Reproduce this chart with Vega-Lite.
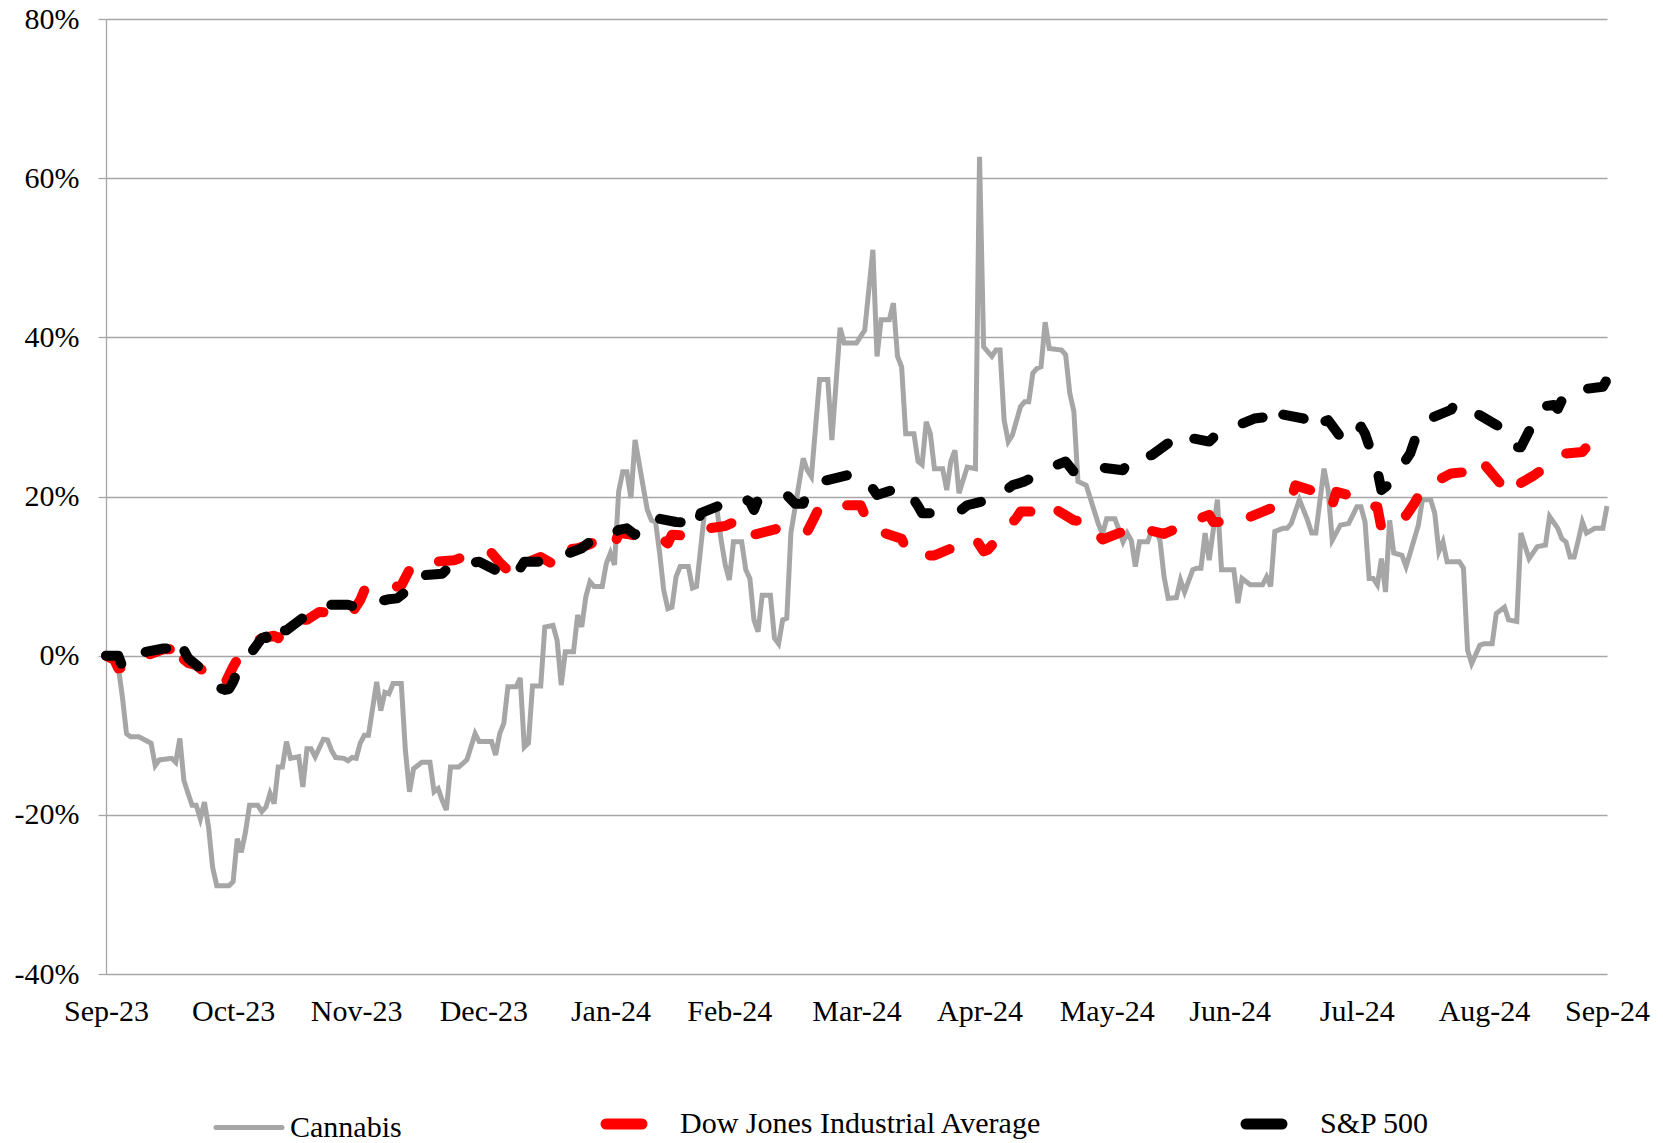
{
"$schema": "https://vega.github.io/schema/vega-lite/v6.json",
"width": 1501, "height": 955,
"autosize": {"type": "none"},
"padding": {"left": 106, "top": 19, "right": 56, "bottom": 169},
"background": "white",
"config": {"view": {"stroke": null}},
"datasets": {
"ticks": [{"d":"2023-10-31"},{"d":"2023-11-30"},{"d":"2023-12-31"},{"d":"2024-01-31"},{"d":"2024-02-29"},{"d":"2024-03-31"},{"d":"2024-04-30"},{"d":"2024-05-31"},{"d":"2024-06-30"},{"d":"2024-07-31"},{"d":"2024-08-31"},{"d":"2024-09-30"}],
"lines": [
{"s":"Cannabis","d":"2023-09-30","v":0},{"s":"Cannabis","d":"2023-10-01","v":0},{"s":"Cannabis","d":"2023-10-03","v":-1.4},{"s":"Cannabis","d":"2023-10-04","v":-5.2},{"s":"Cannabis","d":"2023-10-05","v":-9.8},{"s":"Cannabis","d":"2023-10-06","v":-10.2},{"s":"Cannabis","d":"2023-10-08","v":-10.2},{"s":"Cannabis","d":"2023-10-11","v":-11.0},{"s":"Cannabis","d":"2023-10-12","v":-13.8},{"s":"Cannabis","d":"2023-10-13","v":-13.1},{"s":"Cannabis","d":"2023-10-16","v":-12.9},{"s":"Cannabis","d":"2023-10-17","v":-13.4},{"s":"Cannabis","d":"2023-10-18","v":-10.4},{"s":"Cannabis","d":"2023-10-19","v":-15.7},{"s":"Cannabis","d":"2023-10-20","v":-17.3},{"s":"Cannabis","d":"2023-10-21","v":-18.8},{"s":"Cannabis","d":"2023-10-22","v":-18.8},{"s":"Cannabis","d":"2023-10-23","v":-20.5},{"s":"Cannabis","d":"2023-10-24","v":-18.4},{"s":"Cannabis","d":"2023-10-25","v":-21.5},{"s":"Cannabis","d":"2023-10-26","v":-26.6},{"s":"Cannabis","d":"2023-10-27","v":-28.9},{"s":"Cannabis","d":"2023-10-30","v":-28.9},{"s":"Cannabis","d":"2023-10-31","v":-28.4},{"s":"Cannabis","d":"2023-11-01","v":-23.0},{"s":"Cannabis","d":"2023-11-02","v":-24.7},{"s":"Cannabis","d":"2023-11-03","v":-22.2},{"s":"Cannabis","d":"2023-11-04","v":-18.8},{"s":"Cannabis","d":"2023-11-06","v":-18.8},{"s":"Cannabis","d":"2023-11-07","v":-19.6},{"s":"Cannabis","d":"2023-11-08","v":-19.0},{"s":"Cannabis","d":"2023-11-09","v":-17.3},{"s":"Cannabis","d":"2023-11-10","v":-18.6},{"s":"Cannabis","d":"2023-11-11","v":-14.0},{"s":"Cannabis","d":"2023-11-12","v":-14.0},{"s":"Cannabis","d":"2023-11-13","v":-10.8},{"s":"Cannabis","d":"2023-11-14","v":-12.9},{"s":"Cannabis","d":"2023-11-16","v":-12.7},{"s":"Cannabis","d":"2023-11-17","v":-16.5},{"s":"Cannabis","d":"2023-11-18","v":-11.7},{"s":"Cannabis","d":"2023-11-19","v":-11.7},{"s":"Cannabis","d":"2023-11-20","v":-12.7},{"s":"Cannabis","d":"2023-11-22","v":-10.5},{"s":"Cannabis","d":"2023-11-23","v":-10.6},{"s":"Cannabis","d":"2023-11-24","v":-11.9},{"s":"Cannabis","d":"2023-11-25","v":-12.8},{"s":"Cannabis","d":"2023-11-27","v":-12.9},{"s":"Cannabis","d":"2023-11-28","v":-13.2},{"s":"Cannabis","d":"2023-11-29","v":-12.8},{"s":"Cannabis","d":"2023-11-30","v":-12.9},{"s":"Cannabis","d":"2023-12-01","v":-11.0},{"s":"Cannabis","d":"2023-12-02","v":-10.0},{"s":"Cannabis","d":"2023-12-03","v":-10.0},{"s":"Cannabis","d":"2023-12-05","v":-3.3},{"s":"Cannabis","d":"2023-12-06","v":-6.9},{"s":"Cannabis","d":"2023-12-07","v":-4.6},{"s":"Cannabis","d":"2023-12-08","v":-4.8},{"s":"Cannabis","d":"2023-12-09","v":-3.5},{"s":"Cannabis","d":"2023-12-11","v":-3.5},{"s":"Cannabis","d":"2023-12-12","v":-11.9},{"s":"Cannabis","d":"2023-12-13","v":-17.1},{"s":"Cannabis","d":"2023-12-14","v":-14.2},{"s":"Cannabis","d":"2023-12-16","v":-13.4},{"s":"Cannabis","d":"2023-12-18","v":-13.4},{"s":"Cannabis","d":"2023-12-19","v":-17.1},{"s":"Cannabis","d":"2023-12-20","v":-16.7},{"s":"Cannabis","d":"2023-12-21","v":-18.2},{"s":"Cannabis","d":"2023-12-22","v":-19.4},{"s":"Cannabis","d":"2023-12-23","v":-14.0},{"s":"Cannabis","d":"2023-12-25","v":-14.0},{"s":"Cannabis","d":"2023-12-27","v":-13.1},{"s":"Cannabis","d":"2023-12-29","v":-9.8},{"s":"Cannabis","d":"2023-12-30","v":-10.8},{"s":"Cannabis","d":"2024-01-02","v":-10.8},{"s":"Cannabis","d":"2024-01-03","v":-12.5},{"s":"Cannabis","d":"2024-01-04","v":-9.8},{"s":"Cannabis","d":"2024-01-05","v":-8.5},{"s":"Cannabis","d":"2024-01-06","v":-3.9},{"s":"Cannabis","d":"2024-01-08","v":-3.9},{"s":"Cannabis","d":"2024-01-09","v":-2.8},{"s":"Cannabis","d":"2024-01-10","v":-11.5},{"s":"Cannabis","d":"2024-01-11","v":-11.0},{"s":"Cannabis","d":"2024-01-12","v":-3.8},{"s":"Cannabis","d":"2024-01-14","v":-3.8},{"s":"Cannabis","d":"2024-01-15","v":3.6},{"s":"Cannabis","d":"2024-01-17","v":3.8},{"s":"Cannabis","d":"2024-01-18","v":1.9},{"s":"Cannabis","d":"2024-01-19","v":-3.7},{"s":"Cannabis","d":"2024-01-20","v":0.5},{"s":"Cannabis","d":"2024-01-22","v":0.5},{"s":"Cannabis","d":"2024-01-23","v":5.1},{"s":"Cannabis","d":"2024-01-24","v":3.6},{"s":"Cannabis","d":"2024-01-25","v":7.4},{"s":"Cannabis","d":"2024-01-26","v":9.3},{"s":"Cannabis","d":"2024-01-27","v":8.7},{"s":"Cannabis","d":"2024-01-29","v":8.7},{"s":"Cannabis","d":"2024-01-30","v":11.6},{"s":"Cannabis","d":"2024-01-31","v":12.9},{"s":"Cannabis","d":"2024-02-01","v":11.4},{"s":"Cannabis","d":"2024-02-02","v":20.6},{"s":"Cannabis","d":"2024-02-03","v":23.1},{"s":"Cannabis","d":"2024-02-04","v":23.1},{"s":"Cannabis","d":"2024-02-05","v":19.8},{"s":"Cannabis","d":"2024-02-06","v":27.1},{"s":"Cannabis","d":"2024-02-08","v":21.2},{"s":"Cannabis","d":"2024-02-09","v":18.3},{"s":"Cannabis","d":"2024-02-10","v":17.0},{"s":"Cannabis","d":"2024-02-11","v":16.8},{"s":"Cannabis","d":"2024-02-12","v":12.9},{"s":"Cannabis","d":"2024-02-13","v":8.2},{"s":"Cannabis","d":"2024-02-14","v":5.9},{"s":"Cannabis","d":"2024-02-15","v":6.1},{"s":"Cannabis","d":"2024-02-16","v":9.9},{"s":"Cannabis","d":"2024-02-17","v":11.2},{"s":"Cannabis","d":"2024-02-19","v":11.2},{"s":"Cannabis","d":"2024-02-20","v":8.5},{"s":"Cannabis","d":"2024-02-21","v":8.7},{"s":"Cannabis","d":"2024-02-23","v":18.3},{"s":"Cannabis","d":"2024-02-26","v":18.3},{"s":"Cannabis","d":"2024-02-27","v":14.5},{"s":"Cannabis","d":"2024-02-28","v":11.4},{"s":"Cannabis","d":"2024-02-29","v":9.5},{"s":"Cannabis","d":"2024-03-01","v":14.3},{"s":"Cannabis","d":"2024-03-03","v":14.3},{"s":"Cannabis","d":"2024-03-04","v":10.8},{"s":"Cannabis","d":"2024-03-05","v":9.7},{"s":"Cannabis","d":"2024-03-06","v":4.5},{"s":"Cannabis","d":"2024-03-07","v":3.0},{"s":"Cannabis","d":"2024-03-08","v":7.6},{"s":"Cannabis","d":"2024-03-10","v":7.6},{"s":"Cannabis","d":"2024-03-11","v":2.2},{"s":"Cannabis","d":"2024-03-12","v":1.5},{"s":"Cannabis","d":"2024-03-13","v":4.5},{"s":"Cannabis","d":"2024-03-14","v":4.7},{"s":"Cannabis","d":"2024-03-15","v":15.4},{"s":"Cannabis","d":"2024-03-18","v":24.8},{"s":"Cannabis","d":"2024-03-19","v":23.3},{"s":"Cannabis","d":"2024-03-20","v":22.5},{"s":"Cannabis","d":"2024-03-22","v":34.7},{"s":"Cannabis","d":"2024-03-24","v":34.7},{"s":"Cannabis","d":"2024-03-25","v":27.1},{"s":"Cannabis","d":"2024-03-27","v":41.2},{"s":"Cannabis","d":"2024-03-28","v":39.3},{"s":"Cannabis","d":"2024-03-31","v":39.3},{"s":"Cannabis","d":"2024-04-02","v":40.9},{"s":"Cannabis","d":"2024-04-04","v":51.0},{"s":"Cannabis","d":"2024-04-05","v":37.6},{"s":"Cannabis","d":"2024-04-06","v":42.2},{"s":"Cannabis","d":"2024-04-08","v":42.2},{"s":"Cannabis","d":"2024-04-09","v":44.3},{"s":"Cannabis","d":"2024-04-10","v":37.6},{"s":"Cannabis","d":"2024-04-11","v":36.3},{"s":"Cannabis","d":"2024-04-12","v":27.9},{"s":"Cannabis","d":"2024-04-14","v":27.9},{"s":"Cannabis","d":"2024-04-15","v":24.4},{"s":"Cannabis","d":"2024-04-16","v":24.0},{"s":"Cannabis","d":"2024-04-17","v":29.4},{"s":"Cannabis","d":"2024-04-18","v":27.9},{"s":"Cannabis","d":"2024-04-19","v":23.5},{"s":"Cannabis","d":"2024-04-21","v":23.5},{"s":"Cannabis","d":"2024-04-22","v":20.8},{"s":"Cannabis","d":"2024-04-23","v":24.4},{"s":"Cannabis","d":"2024-04-24","v":25.8},{"s":"Cannabis","d":"2024-04-25","v":20.4},{"s":"Cannabis","d":"2024-04-27","v":23.7},{"s":"Cannabis","d":"2024-04-29","v":23.5},{"s":"Cannabis","d":"2024-04-30","v":62.7},{"s":"Cannabis","d":"2024-05-01","v":38.8},{"s":"Cannabis","d":"2024-05-03","v":37.6},{"s":"Cannabis","d":"2024-05-04","v":38.4},{"s":"Cannabis","d":"2024-05-05","v":38.4},{"s":"Cannabis","d":"2024-05-06","v":29.6},{"s":"Cannabis","d":"2024-05-07","v":26.9},{"s":"Cannabis","d":"2024-05-08","v":27.7},{"s":"Cannabis","d":"2024-05-10","v":31.3},{"s":"Cannabis","d":"2024-05-11","v":31.9},{"s":"Cannabis","d":"2024-05-12","v":31.9},{"s":"Cannabis","d":"2024-05-13","v":35.5},{"s":"Cannabis","d":"2024-05-14","v":36.1},{"s":"Cannabis","d":"2024-05-15","v":36.3},{"s":"Cannabis","d":"2024-05-16","v":41.9},{"s":"Cannabis","d":"2024-05-17","v":38.6},{"s":"Cannabis","d":"2024-05-20","v":38.4},{"s":"Cannabis","d":"2024-05-21","v":37.8},{"s":"Cannabis","d":"2024-05-22","v":33.0},{"s":"Cannabis","d":"2024-05-23","v":30.7},{"s":"Cannabis","d":"2024-05-24","v":21.9},{"s":"Cannabis","d":"2024-05-26","v":21.4},{"s":"Cannabis","d":"2024-05-27","v":19.8},{"s":"Cannabis","d":"2024-05-29","v":16.5},{"s":"Cannabis","d":"2024-05-30","v":15.3},{"s":"Cannabis","d":"2024-05-31","v":17.2},{"s":"Cannabis","d":"2024-06-02","v":17.2},{"s":"Cannabis","d":"2024-06-03","v":15.8},{"s":"Cannabis","d":"2024-06-04","v":14.3},{"s":"Cannabis","d":"2024-06-05","v":15.4},{"s":"Cannabis","d":"2024-06-06","v":14.5},{"s":"Cannabis","d":"2024-06-07","v":11.2},{"s":"Cannabis","d":"2024-06-08","v":14.3},{"s":"Cannabis","d":"2024-06-10","v":14.3},{"s":"Cannabis","d":"2024-06-11","v":15.8},{"s":"Cannabis","d":"2024-06-12","v":15.6},{"s":"Cannabis","d":"2024-06-13","v":14.5},{"s":"Cannabis","d":"2024-06-14","v":9.9},{"s":"Cannabis","d":"2024-06-15","v":7.2},{"s":"Cannabis","d":"2024-06-17","v":7.3},{"s":"Cannabis","d":"2024-06-18","v":9.5},{"s":"Cannabis","d":"2024-06-19","v":8.0},{"s":"Cannabis","d":"2024-06-21","v":10.8},{"s":"Cannabis","d":"2024-06-22","v":11.0},{"s":"Cannabis","d":"2024-06-23","v":11.0},{"s":"Cannabis","d":"2024-06-24","v":15.4},{"s":"Cannabis","d":"2024-06-25","v":12.0},{"s":"Cannabis","d":"2024-06-27","v":19.6},{"s":"Cannabis","d":"2024-06-28","v":10.8},{"s":"Cannabis","d":"2024-07-01","v":10.8},{"s":"Cannabis","d":"2024-07-02","v":6.6},{"s":"Cannabis","d":"2024-07-03","v":9.7},{"s":"Cannabis","d":"2024-07-05","v":8.9},{"s":"Cannabis","d":"2024-07-08","v":8.9},{"s":"Cannabis","d":"2024-07-09","v":9.9},{"s":"Cannabis","d":"2024-07-10","v":8.7},{"s":"Cannabis","d":"2024-07-11","v":15.6},{"s":"Cannabis","d":"2024-07-13","v":16.0},{"s":"Cannabis","d":"2024-07-14","v":16.0},{"s":"Cannabis","d":"2024-07-15","v":16.6},{"s":"Cannabis","d":"2024-07-17","v":19.6},{"s":"Cannabis","d":"2024-07-19","v":17.0},{"s":"Cannabis","d":"2024-07-20","v":15.4},{"s":"Cannabis","d":"2024-07-21","v":15.4},{"s":"Cannabis","d":"2024-07-23","v":23.5},{"s":"Cannabis","d":"2024-07-24","v":20.8},{"s":"Cannabis","d":"2024-07-25","v":14.5},{"s":"Cannabis","d":"2024-07-27","v":16.4},{"s":"Cannabis","d":"2024-07-29","v":16.6},{"s":"Cannabis","d":"2024-07-31","v":18.7},{"s":"Cannabis","d":"2024-08-01","v":18.7},{"s":"Cannabis","d":"2024-08-02","v":16.8},{"s":"Cannabis","d":"2024-08-03","v":9.7},{"s":"Cannabis","d":"2024-08-04","v":9.7},{"s":"Cannabis","d":"2024-08-05","v":8.9},{"s":"Cannabis","d":"2024-08-06","v":12.2},{"s":"Cannabis","d":"2024-08-07","v":8.0},{"s":"Cannabis","d":"2024-08-08","v":17.0},{"s":"Cannabis","d":"2024-08-09","v":12.9},{"s":"Cannabis","d":"2024-08-11","v":12.6},{"s":"Cannabis","d":"2024-08-12","v":11.2},{"s":"Cannabis","d":"2024-08-13","v":12.9},{"s":"Cannabis","d":"2024-08-15","v":16.4},{"s":"Cannabis","d":"2024-08-16","v":19.6},{"s":"Cannabis","d":"2024-08-18","v":19.6},{"s":"Cannabis","d":"2024-08-19","v":17.9},{"s":"Cannabis","d":"2024-08-20","v":13.1},{"s":"Cannabis","d":"2024-08-21","v":14.3},{"s":"Cannabis","d":"2024-08-22","v":11.8},{"s":"Cannabis","d":"2024-08-25","v":11.8},{"s":"Cannabis","d":"2024-08-26","v":11.0},{"s":"Cannabis","d":"2024-08-27","v":0.7},{"s":"Cannabis","d":"2024-08-28","v":-1.0},{"s":"Cannabis","d":"2024-08-30","v":1.3},{"s":"Cannabis","d":"2024-08-31","v":1.5},{"s":"Cannabis","d":"2024-09-02","v":1.5},{"s":"Cannabis","d":"2024-09-03","v":5.3},{"s":"Cannabis","d":"2024-09-05","v":6.1},{"s":"Cannabis","d":"2024-09-06","v":4.5},{"s":"Cannabis","d":"2024-09-08","v":4.3},{"s":"Cannabis","d":"2024-09-09","v":15.4},{"s":"Cannabis","d":"2024-09-11","v":12.2},{"s":"Cannabis","d":"2024-09-13","v":13.7},{"s":"Cannabis","d":"2024-09-15","v":13.9},{"s":"Cannabis","d":"2024-09-16","v":17.5},{"s":"Cannabis","d":"2024-09-18","v":16.0},{"s":"Cannabis","d":"2024-09-19","v":14.7},{"s":"Cannabis","d":"2024-09-20","v":14.3},{"s":"Cannabis","d":"2024-09-21","v":12.4},{"s":"Cannabis","d":"2024-09-22","v":12.4},{"s":"Cannabis","d":"2024-09-23","v":14.5},{"s":"Cannabis","d":"2024-09-24","v":16.8},{"s":"Cannabis","d":"2024-09-25","v":15.4},{"s":"Cannabis","d":"2024-09-27","v":16.0},{"s":"Cannabis","d":"2024-09-29","v":16.0},{"s":"Cannabis","d":"2024-09-30","v":18.8},
{"s":"Dow Jones Industrial Average","d":"2023-09-30","v":0},{"s":"Dow Jones Industrial Average","d":"2023-10-02","v":-0.5},{"s":"Dow Jones Industrial Average","d":"2023-10-03","v":-1.6},{"s":"Dow Jones Industrial Average","d":"2023-10-05","v":-1.4},{"s":"Dow Jones Industrial Average","d":"2023-10-07","v":-0.5},{"s":"Dow Jones Industrial Average","d":"2023-10-14","v":0.8},{"s":"Dow Jones Industrial Average","d":"2023-10-16","v":0.8},{"s":"Dow Jones Industrial Average","d":"2023-10-17","v":1.9},{"s":"Dow Jones Industrial Average","d":"2023-10-18","v":1.6},{"s":"Dow Jones Industrial Average","d":"2023-10-19","v":-0.5},{"s":"Dow Jones Industrial Average","d":"2023-10-20","v":-0.9},{"s":"Dow Jones Industrial Average","d":"2023-10-22","v":-1.2},{"s":"Dow Jones Industrial Average","d":"2023-10-26","v":-2.9},{"s":"Dow Jones Industrial Average","d":"2023-10-27","v":-3.6},{"s":"Dow Jones Industrial Average","d":"2023-10-29","v":-3.5},{"s":"Dow Jones Industrial Average","d":"2023-10-31","v":-1.4},{"s":"Dow Jones Industrial Average","d":"2023-11-01","v":-0.5},{"s":"Dow Jones Industrial Average","d":"2023-11-03","v":0.9},{"s":"Dow Jones Industrial Average","d":"2023-11-07","v":2.2},{"s":"Dow Jones Industrial Average","d":"2023-11-10","v":2.5},{"s":"Dow Jones Industrial Average","d":"2023-11-11","v":2.2},{"s":"Dow Jones Industrial Average","d":"2023-11-14","v":4.0},{"s":"Dow Jones Industrial Average","d":"2023-11-16","v":4.5},{"s":"Dow Jones Industrial Average","d":"2023-11-18","v":4.5},{"s":"Dow Jones Industrial Average","d":"2023-11-21","v":5.5},{"s":"Dow Jones Industrial Average","d":"2023-11-27","v":5.3},{"s":"Dow Jones Industrial Average","d":"2023-11-29","v":5.4},{"s":"Dow Jones Industrial Average","d":"2023-12-01","v":7.0},{"s":"Dow Jones Industrial Average","d":"2023-12-02","v":8.2},{"s":"Dow Jones Industrial Average","d":"2023-12-03","v":8.2},{"s":"Dow Jones Industrial Average","d":"2023-12-08","v":8.5},{"s":"Dow Jones Industrial Average","d":"2023-12-11","v":8.8},{"s":"Dow Jones Industrial Average","d":"2023-12-13","v":10.8},{"s":"Dow Jones Industrial Average","d":"2023-12-15","v":11.6},{"s":"Dow Jones Industrial Average","d":"2023-12-19","v":11.8},{"s":"Dow Jones Industrial Average","d":"2023-12-24","v":12.0},{"s":"Dow Jones Industrial Average","d":"2023-12-28","v":12.8},{"s":"Dow Jones Industrial Average","d":"2024-01-02","v":12.9},{"s":"Dow Jones Industrial Average","d":"2024-01-04","v":11.7},{"s":"Dow Jones Industrial Average","d":"2024-01-07","v":10.2},{"s":"Dow Jones Industrial Average","d":"2024-01-10","v":11.6},{"s":"Dow Jones Industrial Average","d":"2024-01-14","v":12.4},{"s":"Dow Jones Industrial Average","d":"2024-01-18","v":11.2},{"s":"Dow Jones Industrial Average","d":"2024-01-20","v":13.3},{"s":"Dow Jones Industrial Average","d":"2024-01-23","v":13.5},{"s":"Dow Jones Industrial Average","d":"2024-01-26","v":14.0},{"s":"Dow Jones Industrial Average","d":"2024-01-29","v":14.9},{"s":"Dow Jones Industrial Average","d":"2024-02-01","v":13.9},{"s":"Dow Jones Industrial Average","d":"2024-02-02","v":15.4},{"s":"Dow Jones Industrial Average","d":"2024-02-04","v":15.3},{"s":"Dow Jones Industrial Average","d":"2024-02-07","v":15.0},{"s":"Dow Jones Industrial Average","d":"2024-02-13","v":14.5},{"s":"Dow Jones Industrial Average","d":"2024-02-14","v":14.1},{"s":"Dow Jones Industrial Average","d":"2024-02-15","v":15.2},{"s":"Dow Jones Industrial Average","d":"2024-02-20","v":15.0},{"s":"Dow Jones Industrial Average","d":"2024-02-24","v":16.0},{"s":"Dow Jones Industrial Average","d":"2024-02-28","v":16.3},{"s":"Dow Jones Industrial Average","d":"2024-03-02","v":17.0},{"s":"Dow Jones Industrial Average","d":"2024-03-04","v":17.0},{"s":"Dow Jones Industrial Average","d":"2024-03-06","v":15.2},{"s":"Dow Jones Industrial Average","d":"2024-03-12","v":16.0},{"s":"Dow Jones Industrial Average","d":"2024-03-16","v":15.6},{"s":"Dow Jones Industrial Average","d":"2024-03-19","v":15.6},{"s":"Dow Jones Industrial Average","d":"2024-03-20","v":16.6},{"s":"Dow Jones Industrial Average","d":"2024-03-22","v":18.7},{"s":"Dow Jones Industrial Average","d":"2024-03-29","v":18.9},{"s":"Dow Jones Industrial Average","d":"2024-04-01","v":18.9},{"s":"Dow Jones Industrial Average","d":"2024-04-02","v":17.7},{"s":"Dow Jones Industrial Average","d":"2024-04-03","v":17.0},{"s":"Dow Jones Industrial Average","d":"2024-04-04","v":15.9},{"s":"Dow Jones Industrial Average","d":"2024-04-11","v":14.7},{"s":"Dow Jones Industrial Average","d":"2024-04-12","v":13.5},{"s":"Dow Jones Industrial Average","d":"2024-04-14","v":13.5},{"s":"Dow Jones Industrial Average","d":"2024-04-16","v":12.6},{"s":"Dow Jones Industrial Average","d":"2024-04-19","v":12.6},{"s":"Dow Jones Industrial Average","d":"2024-04-25","v":13.9},{"s":"Dow Jones Industrial Average","d":"2024-04-28","v":14.3},{"s":"Dow Jones Industrial Average","d":"2024-04-29","v":14.7},{"s":"Dow Jones Industrial Average","d":"2024-05-01","v":13.1},{"s":"Dow Jones Industrial Average","d":"2024-05-02","v":13.3},{"s":"Dow Jones Industrial Average","d":"2024-05-09","v":17.3},{"s":"Dow Jones Industrial Average","d":"2024-05-10","v":18.1},{"s":"Dow Jones Industrial Average","d":"2024-05-13","v":18.1},{"s":"Dow Jones Industrial Average","d":"2024-05-16","v":19.2},{"s":"Dow Jones Industrial Average","d":"2024-05-23","v":17.0},{"s":"Dow Jones Industrial Average","d":"2024-05-27","v":16.8},{"s":"Dow Jones Industrial Average","d":"2024-05-28","v":15.8},{"s":"Dow Jones Industrial Average","d":"2024-05-30","v":14.6},{"s":"Dow Jones Industrial Average","d":"2024-06-06","v":16.0},{"s":"Dow Jones Industrial Average","d":"2024-06-10","v":15.8},{"s":"Dow Jones Industrial Average","d":"2024-06-14","v":15.3},{"s":"Dow Jones Industrial Average","d":"2024-06-23","v":17.3},{"s":"Dow Jones Industrial Average","d":"2024-06-25","v":17.7},{"s":"Dow Jones Industrial Average","d":"2024-06-26","v":16.8},{"s":"Dow Jones Industrial Average","d":"2024-07-02","v":16.8},{"s":"Dow Jones Industrial Average","d":"2024-07-10","v":18.5},{"s":"Dow Jones Industrial Average","d":"2024-07-12","v":19.3},{"s":"Dow Jones Industrial Average","d":"2024-07-15","v":19.6},{"s":"Dow Jones Industrial Average","d":"2024-07-16","v":21.4},{"s":"Dow Jones Industrial Average","d":"2024-07-21","v":20.6},{"s":"Dow Jones Industrial Average","d":"2024-07-23","v":20.6},{"s":"Dow Jones Industrial Average","d":"2024-07-25","v":18.9},{"s":"Dow Jones Industrial Average","d":"2024-07-26","v":20.6},{"s":"Dow Jones Industrial Average","d":"2024-08-02","v":19.6},{"s":"Dow Jones Industrial Average","d":"2024-08-03","v":18.9},{"s":"Dow Jones Industrial Average","d":"2024-08-05","v":18.7},{"s":"Dow Jones Industrial Average","d":"2024-08-06","v":16.0},{"s":"Dow Jones Industrial Average","d":"2024-08-11","v":17.9},{"s":"Dow Jones Industrial Average","d":"2024-08-12","v":17.6},{"s":"Dow Jones Industrial Average","d":"2024-08-14","v":19.1},{"s":"Dow Jones Industrial Average","d":"2024-08-16","v":21.0},{"s":"Dow Jones Industrial Average","d":"2024-08-23","v":22.9},{"s":"Dow Jones Industrial Average","d":"2024-08-27","v":23.1},{"s":"Dow Jones Industrial Average","d":"2024-08-28","v":22.5},{"s":"Dow Jones Industrial Average","d":"2024-08-31","v":24.1},{"s":"Dow Jones Industrial Average","d":"2024-09-06","v":20.4},{"s":"Dow Jones Industrial Average","d":"2024-09-08","v":20.5},{"s":"Dow Jones Industrial Average","d":"2024-09-09","v":21.7},{"s":"Dow Jones Industrial Average","d":"2024-09-12","v":22.6},{"s":"Dow Jones Industrial Average","d":"2024-09-20","v":25.4},{"s":"Dow Jones Industrial Average","d":"2024-09-24","v":25.6},{"s":"Dow Jones Industrial Average","d":"2024-09-25","v":26.2},{"s":"Dow Jones Industrial Average","d":"2024-09-27","v":25.6},{"s":"Dow Jones Industrial Average","d":"2024-09-30","v":26.0},
{"s":"S&P 500","d":"2023-09-30","v":0},{"s":"S&P 500","d":"2023-10-03","v":0},{"s":"S&P 500","d":"2023-10-04","v":-1.4},{"s":"S&P 500","d":"2023-10-05","v":-0.5},{"s":"S&P 500","d":"2023-10-06","v":0.1},{"s":"S&P 500","d":"2023-10-14","v":0.9},{"s":"S&P 500","d":"2023-10-16","v":0.9},{"s":"S&P 500","d":"2023-10-17","v":2.2},{"s":"S&P 500","d":"2023-10-18","v":2.0},{"s":"S&P 500","d":"2023-10-19","v":0.7},{"s":"S&P 500","d":"2023-10-20","v":-0.3},{"s":"S&P 500","d":"2023-10-26","v":-2.9},{"s":"S&P 500","d":"2023-10-27","v":-3.9},{"s":"S&P 500","d":"2023-10-29","v":-4.3},{"s":"S&P 500","d":"2023-10-30","v":-4.2},{"s":"S&P 500","d":"2023-10-31","v":-3.3},{"s":"S&P 500","d":"2023-11-01","v":-2.0},{"s":"S&P 500","d":"2023-11-07","v":2.2},{"s":"S&P 500","d":"2023-11-08","v":2.4},{"s":"S&P 500","d":"2023-11-09","v":1.3},{"s":"S&P 500","d":"2023-11-10","v":3.0},{"s":"S&P 500","d":"2023-11-13","v":3.2},{"s":"S&P 500","d":"2023-11-20","v":5.9},{"s":"S&P 500","d":"2023-11-24","v":6.4},{"s":"S&P 500","d":"2023-11-28","v":6.4},{"s":"S&P 500","d":"2023-11-30","v":6.1},{"s":"S&P 500","d":"2023-12-08","v":7.1},{"s":"S&P 500","d":"2023-12-10","v":7.2},{"s":"S&P 500","d":"2023-12-12","v":8.0},{"s":"S&P 500","d":"2023-12-13","v":9.3},{"s":"S&P 500","d":"2023-12-14","v":10.0},{"s":"S&P 500","d":"2023-12-21","v":10.3},{"s":"S&P 500","d":"2023-12-22","v":10.8},{"s":"S&P 500","d":"2023-12-26","v":11.0},{"s":"S&P 500","d":"2023-12-27","v":11.6},{"s":"S&P 500","d":"2023-12-30","v":11.8},{"s":"S&P 500","d":"2024-01-07","v":9.7},{"s":"S&P 500","d":"2024-01-09","v":11.0},{"s":"S&P 500","d":"2024-01-10","v":11.8},{"s":"S&P 500","d":"2024-01-14","v":11.8},{"s":"S&P 500","d":"2024-01-21","v":12.9},{"s":"S&P 500","d":"2024-01-24","v":13.5},{"s":"S&P 500","d":"2024-01-26","v":14.3},{"s":"S&P 500","d":"2024-01-29","v":14.3},{"s":"S&P 500","d":"2024-02-02","v":15.8},{"s":"S&P 500","d":"2024-02-04","v":16.0},{"s":"S&P 500","d":"2024-02-06","v":15.2},{"s":"S&P 500","d":"2024-02-07","v":16.4},{"s":"S&P 500","d":"2024-02-10","v":17.4},{"s":"S&P 500","d":"2024-02-16","v":16.8},{"s":"S&P 500","d":"2024-02-20","v":16.7},{"s":"S&P 500","d":"2024-02-21","v":15.9},{"s":"S&P 500","d":"2024-02-22","v":17.9},{"s":"S&P 500","d":"2024-03-01","v":19.6},{"s":"S&P 500","d":"2024-03-03","v":20.0},{"s":"S&P 500","d":"2024-03-05","v":19.3},{"s":"S&P 500","d":"2024-03-06","v":18.3},{"s":"S&P 500","d":"2024-03-07","v":19.6},{"s":"S&P 500","d":"2024-03-14","v":20.2},{"s":"S&P 500","d":"2024-03-16","v":19.1},{"s":"S&P 500","d":"2024-03-18","v":19.1},{"s":"S&P 500","d":"2024-03-19","v":20.4},{"s":"S&P 500","d":"2024-03-21","v":21.7},{"s":"S&P 500","d":"2024-03-29","v":22.7},{"s":"S&P 500","d":"2024-04-01","v":22.7},{"s":"S&P 500","d":"2024-04-02","v":21.9},{"s":"S&P 500","d":"2024-04-03","v":21.7},{"s":"S&P 500","d":"2024-04-05","v":20.2},{"s":"S&P 500","d":"2024-04-11","v":21.2},{"s":"S&P 500","d":"2024-04-12","v":20.2},{"s":"S&P 500","d":"2024-04-14","v":19.6},{"s":"S&P 500","d":"2024-04-15","v":18.8},{"s":"S&P 500","d":"2024-04-16","v":17.9},{"s":"S&P 500","d":"2024-04-23","v":17.9},{"s":"S&P 500","d":"2024-04-25","v":18.1},{"s":"S&P 500","d":"2024-04-27","v":18.9},{"s":"S&P 500","d":"2024-04-30","v":19.3},{"s":"S&P 500","d":"2024-05-04","v":19.6},{"s":"S&P 500","d":"2024-05-06","v":20.6},{"s":"S&P 500","d":"2024-05-08","v":21.4},{"s":"S&P 500","d":"2024-05-11","v":21.9},{"s":"S&P 500","d":"2024-05-19","v":24.0},{"s":"S&P 500","d":"2024-05-21","v":24.4},{"s":"S&P 500","d":"2024-05-23","v":23.1},{"s":"S&P 500","d":"2024-05-25","v":23.7},{"s":"S&P 500","d":"2024-05-27","v":23.8},{"s":"S&P 500","d":"2024-06-04","v":23.3},{"s":"S&P 500","d":"2024-06-06","v":25.0},{"s":"S&P 500","d":"2024-06-08","v":24.9},{"s":"S&P 500","d":"2024-06-11","v":25.2},{"s":"S&P 500","d":"2024-06-19","v":28.2},{"s":"S&P 500","d":"2024-06-21","v":27.3},{"s":"S&P 500","d":"2024-06-25","v":26.9},{"s":"S&P 500","d":"2024-06-27","v":27.9},{"s":"S&P 500","d":"2024-07-06","v":29.8},{"s":"S&P 500","d":"2024-07-09","v":30.0},{"s":"S&P 500","d":"2024-07-10","v":31.5},{"s":"S&P 500","d":"2024-07-12","v":30.4},{"s":"S&P 500","d":"2024-07-18","v":29.8},{"s":"S&P 500","d":"2024-07-20","v":28.2},{"s":"S&P 500","d":"2024-07-21","v":28.2},{"s":"S&P 500","d":"2024-07-23","v":29.4},{"s":"S&P 500","d":"2024-07-24","v":29.6},{"s":"S&P 500","d":"2024-07-27","v":27.5},{"s":"S&P 500","d":"2024-07-29","v":27.5},{"s":"S&P 500","d":"2024-07-30","v":26.9},{"s":"S&P 500","d":"2024-08-01","v":28.8},{"s":"S&P 500","d":"2024-08-02","v":27.9},{"s":"S&P 500","d":"2024-08-05","v":23.3},{"s":"S&P 500","d":"2024-08-06","v":20.8},{"s":"S&P 500","d":"2024-08-08","v":21.6},{"s":"S&P 500","d":"2024-08-13","v":25.4},{"s":"S&P 500","d":"2024-08-14","v":26.9},{"s":"S&P 500","d":"2024-08-15","v":28.2},{"s":"S&P 500","d":"2024-08-16","v":29.4},{"s":"S&P 500","d":"2024-08-23","v":30.9},{"s":"S&P 500","d":"2024-08-24","v":31.7},{"s":"S&P 500","d":"2024-08-26","v":31.7},{"s":"S&P 500","d":"2024-08-27","v":31.3},{"s":"S&P 500","d":"2024-08-29","v":30.5},{"s":"S&P 500","d":"2024-09-03","v":29.0},{"s":"S&P 500","d":"2024-09-05","v":28.4},{"s":"S&P 500","d":"2024-09-06","v":27.1},{"s":"S&P 500","d":"2024-09-07","v":26.2},{"s":"S&P 500","d":"2024-09-09","v":26.2},{"s":"S&P 500","d":"2024-09-14","v":31.3},{"s":"S&P 500","d":"2024-09-17","v":31.5},{"s":"S&P 500","d":"2024-09-18","v":31.0},{"s":"S&P 500","d":"2024-09-20","v":33.2},{"s":"S&P 500","d":"2024-09-29","v":33.8},{"s":"S&P 500","d":"2024-09-30","v":34.7}
]
},
"data": {"name": "lines"},
"encoding": {
  "x": {"field": "d", "type": "temporal",
    "scale": {"type": "utc", "domain": [{"year":2023,"month":9,"date":30,"utc":true},{"year":2024,"month":9,"date":30,"utc":true}]},
    "axis": {"title": null, "labelExpr": "utcFormat(datum.value, '%b-%y')",
      "values": [{"year":2023,"month":9,"date":30,"utc":true},{"year":2023,"month":10,"date":31,"utc":true},{"year":2023,"month":11,"date":30,"utc":true},{"year":2023,"month":12,"date":31,"utc":true},{"year":2024,"month":1,"date":31,"utc":true},{"year":2024,"month":2,"date":29,"utc":true},{"year":2024,"month":3,"date":31,"utc":true},{"year":2024,"month":4,"date":30,"utc":true},{"year":2024,"month":5,"date":31,"utc":true},{"year":2024,"month":6,"date":30,"utc":true},{"year":2024,"month":7,"date":31,"utc":true},{"year":2024,"month":8,"date":31,"utc":true},{"year":2024,"month":9,"date":30,"utc":true}],
      "grid": false, "domain": false, "ticks": false, "tickSize": 0, "labelPadding": 22,
      "labelFont": "Liberation Serif", "labelFontSize": 30, "labelColor": "#000000",
      "labelFlush": false, "labelOverlap": false, "labelBound": false}},
  "y": {"field": "v", "type": "quantitative",
    "scale": {"domain": [-40, 80], "nice": false, "zero": false},
    "axis": {"title": null, "values": [-40,-20,0,20,40,60,80], "labelExpr": "datum.value + '%'",
      "grid": true, "gridColor": "#a6a6a6", "gridWidth": 1.3,
      "domainColor": "#a6a6a6", "domainWidth": 1.3,
      "tickColor": "#a6a6a6", "tickWidth": 1.3, "tickSize": 8, "labelPadding": 19,
      "labelFont": "Liberation Serif", "labelFontSize": 30, "labelColor": "#000000"}},
  "color": {"field": "s", "type": "nominal",
    "scale": {"domain": ["Cannabis","Dow Jones Industrial Average","S&P 500"], "range": ["#a6a6a6","#ff0000","#000000"]},
    "legend": {"orient": "none", "legendX": 128, "legendY": 1090, "direction": "horizontal", "title": null,
      "labelFont": "Liberation Serif", "labelFontSize": 30, "labelColor": "#000000", "labelLimit": 0,
      "symbolType": "stroke", "symbolSize": 4356, "labelOffset": 26, "columnPadding": 182, "padding": 0,
      "encode": {"symbols": {"update": {
        "strokeCap": {"value": "round"},
        "strokeWidth": {"signal": "datum.value === 'Cannabis' ? 5 : 11"},
        "strokeDash": {"signal": "datum.value === 'Cannabis' ? [1,0] : [36,100]"}}}}}}
},
"layer": [
  {"data": {"name": "ticks"},
   "mark": {"type": "rule", "color": "#a6a6a6", "strokeWidth": 1.3},
   "encoding": {"y": {"datum": 0}, "y2": {"datum": -1}, "color": {"value": "#a6a6a6"}}},
  {"transform": [{"filter": "datum.s === 'Cannabis'"}],
   "mark": {"type": "line", "strokeWidth": 5, "strokeJoin": "miter", "strokeCap": "butt"}},
  {"transform": [{"filter": "datum.s === 'Dow Jones Industrial Average'"}],
   "mark": {"type": "line", "strokeWidth": 10, "strokeDash": [21, 33], "strokeJoin": "round", "strokeCap": "round"}},
  {"transform": [{"filter": "datum.s === 'S&P 500'"}],
   "mark": {"type": "line", "strokeWidth": 10, "strokeDash": [21, 33], "strokeJoin": "round", "strokeCap": "round"}}
]
}
